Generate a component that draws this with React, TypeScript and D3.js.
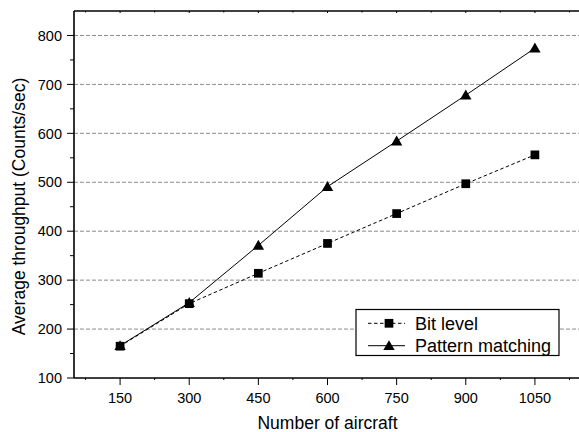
import * as d3 from "d3";

const aircraft = [150, 300, 450, 600, 750, 900, 1050];
const bitLevel = [165, 252, 314, 375, 436, 497, 556];
const patternMatching = [166, 254, 371, 491, 584, 678, 774];
const yTicks = [100, 200, 300, 400, 500, 600, 700, 800];
const seriesNames = ["Bit level", "Pattern matching"];

export default function App() {
  const width = 579, height = 432;
  const marginLeft = 74, marginTop = 11, marginBottom = 54;
  const x = d3.scaleLinear([50, 1150], [marginLeft, 581]);
  const y = d3.scaleLinear([100, 850], [height - marginBottom, marginTop]);
  const font = "Arial, 'Liberation Sans', sans-serif";

  const bitPts = aircraft.map((a, i) => [a, bitLevel[i]] as [number, number]);
  const patPts = aircraft.map((a, i) => [a, patternMatching[i]] as [number, number]);
  const line = d3.line<[number, number]>().x(d => x(d[0])).y(d => y(d[1]));
  const tri = d3.symbol(d3.symbolTriangle, 56)();
  const sq = d3.symbol(d3.symbolSquare, 76)();

  const xMinor = d3.range(75, 1150, 75).filter(v => v % 150 !== 0);
  const yMinor = d3.range(150, 850, 100);
  const y0 = y(100);

  return (
    <svg width={width} height={height} style={{ position: "absolute", left: 0, top: 0, background: "#fff" }}>
      {/* grid */}
      <g stroke="#8c8c8c" strokeDasharray="4,2" strokeWidth={1}>
        {yTicks.filter(v => v > 100).map(v => (
          <line key={v} x1={marginLeft} x2={width} y1={y(v)} y2={y(v)} />
        ))}
      </g>

      {/* axes */}
      <g stroke="#000" strokeWidth={1.6}>
        <line x1={marginLeft} x2={marginLeft} y1={marginTop} y2={y0} />
        <line x1={marginLeft} x2={width} y1={y0} y2={y0} />
        <line x1={marginLeft} x2={width} y1={marginTop} y2={marginTop} />
      </g>
      <g stroke="#000" strokeWidth={1}>
        {yTicks.map(v => <line key={v} x1={marginLeft - 7} x2={marginLeft} y1={y(v)} y2={y(v)} />)}
        {yMinor.map(v => <line key={v} x1={marginLeft - 4} x2={marginLeft} y1={y(v)} y2={y(v)} />)}
        {aircraft.map(v => <line key={v} x1={x(v)} x2={x(v)} y1={y0} y2={y0 + 7} />)}
        {xMinor.map(v => <line key={v} x1={x(v)} x2={x(v)} y1={y0} y2={y0 + 2} />)}
        {aircraft.map(v => <line key={"t" + v} x1={x(v)} x2={x(v)} y1={marginTop} y2={marginTop + 2} />)}
        {xMinor.map(v => <line key={"tm" + v} x1={x(v)} x2={x(v)} y1={marginTop} y2={marginTop + 1.5} />)}
      </g>
      <g fontFamily={font} fontSize={14.5} fill="#000">
        {yTicks.map(v => (
          <text key={v} x={marginLeft - 12} y={y(v)} dy="0.36em" textAnchor="end">{v}</text>
        ))}
        {aircraft.map(v => (
          <text key={v} x={x(v)} y={y0 + 24.5} textAnchor="middle">{v}</text>
        ))}
      </g>
      <text x={(marginLeft + 581) / 2} y={429} textAnchor="middle" fontFamily={font} fontSize={17.5}>Number of aircraft</text>
      <text transform={`translate(25,${(marginTop + y0) / 2 + 12}) rotate(-90)`} textAnchor="middle" fontFamily={font} fontSize={17.5}>
        Average throughput (Counts/sec)
      </text>

      {/* series */}
      <path d={line(bitPts) ?? ""} fill="none" stroke="#000" strokeWidth={1} strokeDasharray="3.5,2.5" />
      <path d={line(patPts) ?? ""} fill="none" stroke="#000" strokeWidth={1} />
      {bitPts.map((d, i) => <path key={i} d={sq ?? ""} transform={`translate(${x(d[0])},${y(d[1])})`} fill="#000" />)}
      {patPts.map((d, i) => <path key={i} d={tri ?? ""} transform={`translate(${x(d[0])},${y(d[1]) + 1})`} fill="#000" />)}

      {/* legend */}
      <g>
        <rect x={356} y={309.5} width={203} height={46} fill="#fff" stroke="#000" strokeWidth={1.2} />
        {seriesNames.map((name, i) => {
          const ly = 323.3 + i * 22.4;
          return (
            <g key={name}>
              <line x1={368} x2={405} y1={ly} y2={ly} stroke="#000" strokeWidth={1} strokeDasharray={i === 0 ? "3.5,2.5" : undefined} />
              <path d={(i === 0 ? sq : tri) ?? ""} transform={`translate(389,${ly + (i === 0 ? 0 : 1)})`} fill="#000" />
              <text x={415} y={ly} dy="0.36em" fontFamily={font} fontSize={18}>{name}</text>
            </g>
          );
        })}
      </g>
    </svg>
  );
}
